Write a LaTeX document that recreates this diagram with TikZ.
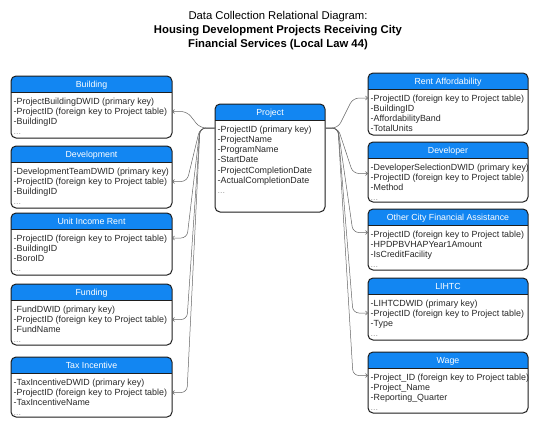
\documentclass[tikz,border=0pt]{standalone}
\usepackage{fontspec}
\setmainfont{Liberation Sans}
\usetikzlibrary{arrows.meta}
\definecolor{hdrblue}{RGB}{18,134,242}
\definecolor{txtgray}{RGB}{40,40,40}
\definecolor{dotgray}{RGB}{160,160,160}
\definecolor{bordergray}{RGB}{30,30,30}
\definecolor{conngray}{RGB}{100,100,100}
\tikzset{
  tblframe/.style={draw=none, fill=white, inner sep=0pt, outer sep=0pt},
  tblborder/.style={draw=bordergray, line width=1pt},
  hdrfill/.style={fill=hdrblue},
  hdrtext/.style={text=white, inner sep=0pt, font=\fontsize{8.8}{10.2}\selectfont},
  rowtext/.style={text=txtgray, inner sep=0pt, align=left, font=\fontsize{8.9}{10.25}\selectfont},
  titletext/.style={text=black, inner sep=0pt, align=center},
  conn/.style={draw=conngray, line width=0.5pt, rounded corners=6pt, -{Straight Barb[length=2.2pt,width=4pt]}},
}
\newcommand\dbtable[7]{%
  \node[tblframe, minimum width=#4pt, minimum height=#5pt, anchor=north west] (#1) at (#2,#3) {};
  \begin{scope}
    \clip[rounded corners=5pt] (#1.north west) rectangle (#1.south east);
    \fill[hdrfill] (#1.north west) rectangle ([yshift=-16pt]#1.north east);
  \end{scope}
  \draw[draw=bordergray, line width=0.6pt] ([yshift=-16pt]#1.north west) -- ([yshift=-16pt]#1.north east);
  \draw[tblborder, rounded corners=5pt] (#1.north west) rectangle (#1.south east);
  \node[hdrtext, anchor=base] (#1-title) at ([yshift=-11.5pt]#1.north) {#6};
  \node[rowtext, anchor=north west] (#1-rows) at ([xshift=2.5pt,yshift=-21.5pt]#1.north west) {#7};
}
\newcommand\moredots{{\color{dotgray}...}}
\newcommand\leftlink[2]{%
  \draw[conn] ([yshift=-24pt]proj.north west) -- ([xshift=-15pt,yshift=-24pt]proj.north west)
    -- ([xshift=15pt,yshift=-#2pt]#1.north east) -- ([yshift=-#2pt]#1.north east);}
\newcommand\rightlink[2]{%
  \draw[conn] ([yshift=-24pt]proj.north east) -- ([xshift=13pt,yshift=-24pt]proj.north east)
    -- ([xshift=-15pt,yshift=-#2pt]#1.north west) -- ([yshift=-#2pt]#1.north west);}
\begin{document}
\begin{tikzpicture}[x=1pt,y=-1pt]
\useasboundingbox[fill=white] (0,0) rectangle (540,429);
% title
\node[titletext, font=\fontsize{11.3}{14}\selectfont] (title) at (278,31)
  {Data Collection Relational Diagram:\\\textbf{Housing Development Projects Receiving City}\\\textbf{Financial Services (Local Law 44)}};
% left column
\dbtable{bld}{11}{76}{161}{62}{Building}{-ProjectBuildingDWID (primary key)\\-ProjectID (foreign key to Project table)\\-BuildingID\\\moredots}
\dbtable{dev}{11}{146}{161}{62}{Development}{-DevelopmentTeamDWID (primary key)\\-ProjectID (foreign key to Project table)\\-BuildingID\\\moredots}
\dbtable{uir}{11}{213}{161}{62}{Unit Income Rent}{-ProjectID (foreign key to Project table)\\-BuildingID\\-BoroID\\\moredots}
\dbtable{fund}{11}{284}{161}{61}{Funding}{-FundDWID (primary key)\\-ProjectID (foreign key to Project table)\\-FundName\\\moredots}
\dbtable{tax}{11}{357}{161}{60}{Tax Incentive}{-TaxIncentiveDWID (primary key)\\-ProjectID (foreign key to Project table)\\-TaxIncentiveName\\\moredots}
% center
\dbtable{proj}{215}{104}{110}{108}{Project}{-ProjectID (primary key)\\-ProjectName\\-ProgramName\\-StartDate\\-ProjectCompletionDate\\-ActualCompletionDate\\\moredots}
% right column
\dbtable{ra}{368}{73}{160}{62}{Rent Affordability}{-ProjectID (foreign key to Project table)\\-BuildingID\\-AffordabilityBand\\-TotalUnits}
\dbtable{devr}{368}{142}{160}{60}{Developer}{-DeveloperSelectionDWID (primary key)\\-ProjectID (foreign key to Project table)\\-Method\\\moredots}
\dbtable{ocfa}{368}{209}{160}{61}{Other City Financial Assistance}{-ProjectID (foreign key to Project table)\\-HPDPBVHAPYear1Amount\\-IsCreditFacility\\\moredots}
\dbtable{lihtc}{368}{278}{160}{62}{LIHTC}{-LIHTCDWID (primary key)\\-ProjectID (foreign key to Project table)\\-Type\\\moredots}
\dbtable{wage}{368}{352}{160}{61}{Wage}{-Project\_ID (foreign key to Project table)\\-Project\_Name\\-Reporting\_Quarter\\\moredots}
% connectors
\leftlink{bld}{35.5}
\leftlink{dev}{35.5}
\leftlink{uir}{25}
\leftlink{fund}{35.5}
\leftlink{tax}{35.5}
\rightlink{ra}{25}
\rightlink{devr}{31.5}
\rightlink{ocfa}{23.5}
\rightlink{lihtc}{35}
\rightlink{wage}{23.5}
\end{tikzpicture}
\end{document}
